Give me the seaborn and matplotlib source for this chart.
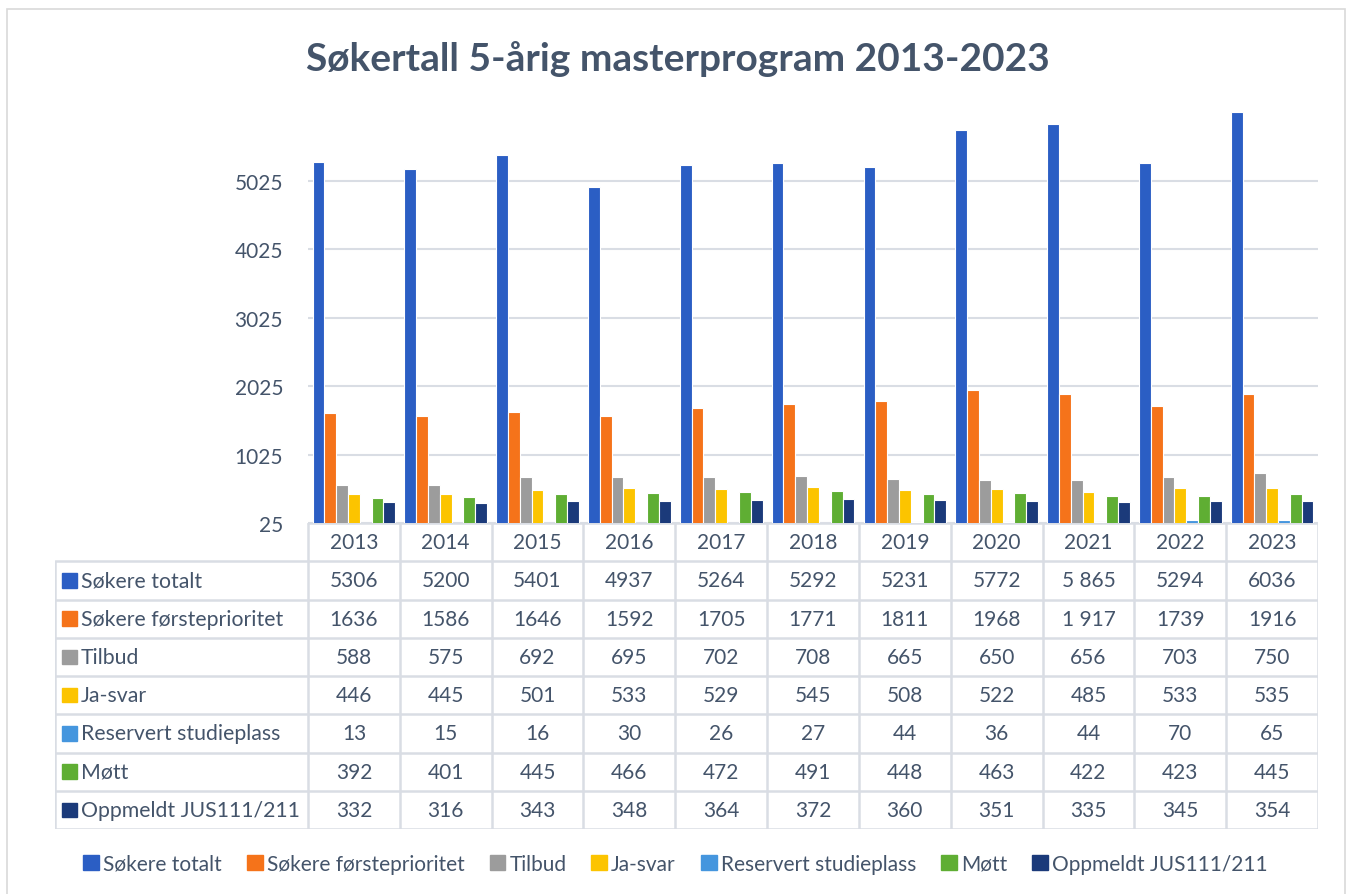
import matplotlib.pyplot as plt
import matplotlib.patches as mpatches
import pandas as pd
import seaborn as sns

years = ["2013", "2014", "2015", "2016", "2017", "2018", "2019", "2020", "2021", "2022", "2023"]
series = [
    "Søkere totalt",
    "Søkere førsteprioritet",
    "Tilbud",
    "Ja-svar",
    "Reservert studieplass",
    "Møtt",
    "Oppmeldt JUS111/211",
]
sokere_totalt = [5306, 5200, 5401, 4937, 5264, 5292, 5231, 5772, 5865, 5294, 6036]
sokere_forste = [1636, 1586, 1646, 1592, 1705, 1771, 1811, 1968, 1917, 1739, 1916]
tilbud = [588, 575, 692, 695, 702, 708, 665, 650, 656, 703, 750]
ja_svar = [446, 445, 501, 533, 529, 545, 508, 522, 485, 533, 535]
reservert = [13, 15, 16, 30, 26, 27, 44, 36, 44, 70, 65]
mott = [392, 401, 445, 466, 472, 491, 448, 463, 422, 423, 445]
oppmeldt = [332, 316, 343, 348, 364, 372, 360, 351, 335, 345, 354]
values = [sokere_totalt, sokere_forste, tilbud, ja_svar, reservert, mott, oppmeldt]
# the table writes a few numbers with a space as thousands separator
table_text = [[str(v) for v in row] for row in values]
table_text[0][8] = "5 865"
table_text[1][8] = "1 917"

colors = ["#2B5EC4", "#F5731A", "#9C9C9C", "#FCC400", "#4596DE", "#5FAE33", "#1B3A7A"]
text_color = "#44546A"
grid_color = "#D9DDE4"

df = pd.DataFrame(
    [(y, s, v) for s, row in zip(series, values) for y, v in zip(years, row)],
    columns=["year", "series", "value"],
)

sns.set_theme(style="white")
plt.rcParams["font.family"] = ["Lato", "DejaVu Sans"]

W, H = 1351, 895
fig = plt.figure(figsize=(W / 100, H / 100), dpi=100)
fig.patch.set_facecolor("white")
fig.add_artist(mpatches.Rectangle((7 / W, -0.01), (1345 - 7) / W, 1 - 10 / H + 0.01,
                                  transform=fig.transFigure, fill=False,
                                  edgecolor="#D9D9D9", linewidth=1.2))

# bar area
left, right = 308 / W, 1318 / W
y_base, y_top = 524, 112
ax = fig.add_axes([left, 1 - y_base / H, right - left, (y_base - y_top) / H])
sns.barplot(data=df, x="year", y="value", hue="series", hue_order=series,
            palette=colors, saturation=1, width=0.9, edgecolor="white", linewidth=0.8,
            legend=False, ax=ax)
ax.set_ylim(25, 6050)
ax.set_xlim(-0.5, 10.5)
ax.set_yticks([25, 1025, 2025, 3025, 4025, 5025])
ax.tick_params(axis="y", labelsize=15, labelcolor=text_color, length=0, pad=18)
ax.set_xticks([])
ax.set_xlabel(None)
ax.set_ylabel(None)
ax.grid(axis="y", color=grid_color, linewidth=1.5)
ax.set_axisbelow(True)
for sp in ax.spines.values():
    sp.set_visible(False)

fig.suptitle("Søkertall 5-årig masterprogram 2013-2023", x=(W / 2 + 2) / W, y=1 - 41 / H,
             fontsize=28, fontweight="bold", color=text_color, va="top")

# data table below the bars
t_left, t_bottom, t_top = 55 / W, 830, y_base
tax = fig.add_axes([t_left, 1 - t_bottom / H, right - t_left, (t_bottom - t_top) / H])
col_w = (right - left) * W / 11
x0 = -0.5 - (left - t_left) * W / col_w
tax.set_xlim(x0, 10.5)
tax.set_ylim(8, 0)
tax.axis("off")
lw = 1.8
for i in range(12):
    tax.plot([i - 0.5, i - 0.5], [0, 8], color=grid_color, lw=lw, solid_capstyle="butt")
tax.plot([-0.5, 10.5], [0, 0], color=grid_color, lw=lw)
tax.plot([x0, x0], [1, 8], color=grid_color, lw=lw, solid_capstyle="butt")
for r in range(1, 9):
    tax.plot([x0, 10.5], [r, r], color=grid_color, lw=lw)
for i, y in enumerate(years):
    tax.text(i, 0.5, y, ha="center", va="center", fontsize=15, color=text_color)
for r, (s, c) in enumerate(zip(series, colors), start=1):
    tax.add_patch(mpatches.Rectangle((x0 + 0.08, r + 0.31), 0.16, 0.38, color=c))
    tax.text(x0 + 0.28, r + 0.5, s, ha="left", va="center", fontsize=15.3, color=text_color)
    for i in range(11):
        tax.text(i, r + 0.5, table_text[r - 1][i], ha="center", va="center",
                 fontsize=15, color=text_color)

handles = [mpatches.Patch(color=c, label=s) for s, c in zip(series, colors)]
leg = fig.legend(handles=handles, loc="center", bbox_to_anchor=(0.5, 1 - 865 / H), ncol=7,
                 frameon=False, fontsize=15, handlelength=0.75, handleheight=0.75,
                 handletextpad=0.2, columnspacing=1.2)
for t in leg.get_texts():
    t.set_color(text_color)

fig.savefig("out.png", dpi=100)
